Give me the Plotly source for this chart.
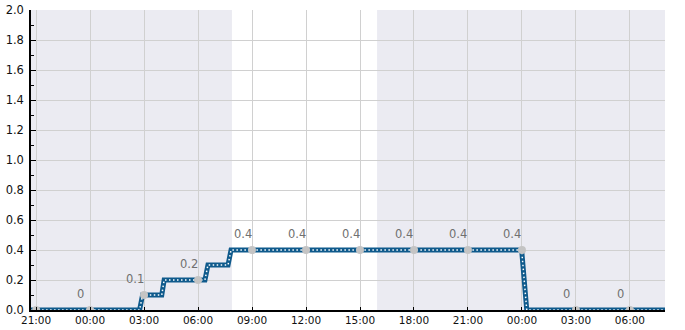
import plotly.graph_objects as go
import pandas as pd

# step series (time, value)
line_times = ["2024-01-01 20:40", "2024-01-02 02:45", "2024-01-02 02:55", "2024-01-02 03:59",
              "2024-01-02 04:07", "2024-01-02 06:23", "2024-01-02 06:33", "2024-01-02 07:40",
              "2024-01-02 07:50", "2024-01-02 23:59", "2024-01-03 00:16", "2024-01-03 08:00"]
line_values = [0, 0, 0.1, 0.1, 0.2, 0.2, 0.3, 0.3, 0.4, 0.4, 0, 0]

# labelled sample points every 3 hours
point_times = ["2024-01-01 21:00", "2024-01-02 00:00", "2024-01-02 03:00", "2024-01-02 06:00",
               "2024-01-02 09:00", "2024-01-02 12:00", "2024-01-02 15:00", "2024-01-02 18:00",
               "2024-01-02 21:00", "2024-01-03 00:00", "2024-01-03 03:00", "2024-01-03 06:00"]
point_values = [0, 0, 0.1, 0.2, 0.4, 0.4, 0.4, 0.4, 0.4, 0.4, 0, 0]
point_labels = ["0", "0", "0.1", "0.2", "0.4", "0.4", "0.4", "0.4", "0.4", "0.4", "0", "0"]

# shaded (night) periods
shade_periods = [("2024-01-01 20:00", "2024-01-02 07:53"), ("2024-01-02 15:57", "2024-01-03 09:00")]

x_range = ["2024-01-01 20:43", "2024-01-03 07:57"]
y_ticks = [0, 0.2, 0.4, 0.6, 0.8, 1.0, 1.2, 1.4, 1.6, 1.8, 2.0]

fig = go.Figure()
fig.add_trace(go.Scatter(x=line_times, y=line_values, mode="lines",
                         line=dict(color="#0f5a8c", width=5), showlegend=False))
fig.add_trace(go.Scatter(x=line_times, y=line_values, mode="lines",
                         line=dict(color="white", width=1.5, dash="1.5px,2.5px"), showlegend=False))
fig.add_trace(go.Scatter(x=point_times, y=point_values, mode="markers",
                         marker=dict(color="#c4c4c4", size=8),
                         hoverinfo="skip", showlegend=False))

# labels (the one whose text would fall left of the plot area is clipped in the original)
x_start = pd.Timestamp(x_range[0]) + pd.Timedelta(minutes=60)
for t, v, lab in zip(point_times, point_values, point_labels):
    if pd.Timestamp(t) < x_start:
        continue
    fig.add_annotation(x=t, y=v, text=lab, showarrow=False, xanchor="center", yanchor="bottom",
                       xshift=-9.5, yshift=7, font=dict(color="#707070", size=11.5, family="DejaVu Sans"))

for a, b in shade_periods:
    fig.add_shape(type="rect", xref="x", yref="paper", x0=a, x1=b, y0=0, y1=1,
                  fillcolor="#ebebf2", line_width=0, layer="below")

fig.update_layout(
    width=685, height=330, margin=dict(l=31, r=20, t=10, b=20, autoexpand=False),
    paper_bgcolor="white", plot_bgcolor="white",
    font=dict(family="DejaVu Sans", size=11, color="#111"),
    xaxis=dict(range=x_range, type="date", dtick=3 * 3600 * 1000, automargin=False,
               tick0="2024-01-01 21:00", tickformat="%H:%M",
               showgrid=True, gridcolor="#d0d0d0", gridwidth=1,
               showline=True, linecolor="black", linewidth=1.5,
               ticks="inside", ticklen=3, tickcolor="black",
               tickfont=dict(size=10.5), zeroline=False),
    yaxis=dict(range=[0, 2.0], tickvals=y_ticks, tickformat=".1f", automargin=False,
               showgrid=True, gridcolor="#d0d0d0", gridwidth=1,
               showline=True, linecolor="black", linewidth=1.5,
               ticks="inside", ticklen=5, tickcolor="black", zeroline=False,
               tickfont=dict(size=11.5), ticklabelstandoff=3,
               minor=dict(dtick=0.1, ticks="inside", ticklen=3, tickcolor="black", showgrid=False)),
)

fig.write_html("out.html")
